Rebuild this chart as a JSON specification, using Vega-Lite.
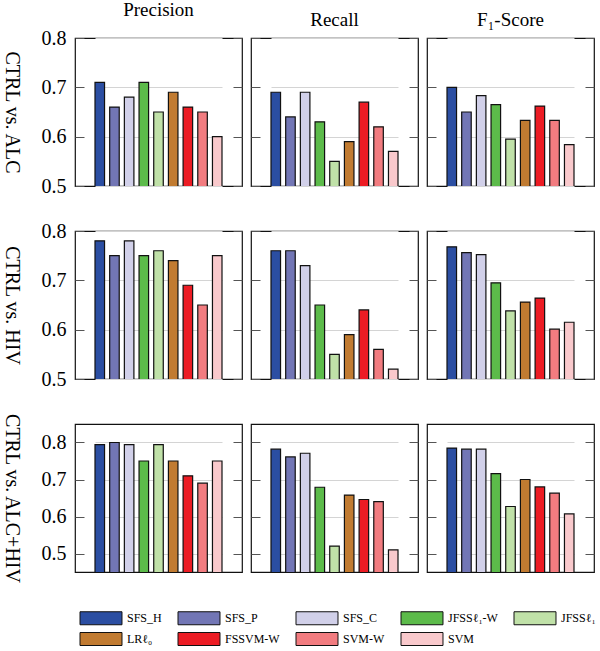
{
  "$schema": "https://vega.github.io/schema/vega-lite/v6.json",
  "padding": {"left": 0, "top": 0, "right": 2, "bottom": 0},
  "background": "white",
  "config": {
    "view": {"stroke": "#111", "strokeWidth": 1.2},
    "font": "Liberation Serif",
    "axis": {"domain": false, "tickSize": -9, "tickColor": "#555", "tickWidth": 1, "gridColor": "#d4d4d4", "gridWidth": 1, "labelFont": "Liberation Serif", "labelFontSize": 20, "labelColor": "black", "labelPadding": 18, "titleFont": "Liberation Serif", "titleFontSize": 20, "titleFontWeight": "normal", "titleColor": "black"},
    "title": {"font": "Liberation Serif", "fontSize": 19, "fontWeight": "normal", "color": "black", "offset": 8, "frame": "group"}
  },
  "data": {"values": [
    {"row": "ALC", "metric": "Precision", "method": "SFS_H", "value": 0.71},
    {"row": "ALC", "metric": "Precision", "method": "SFS_P", "value": 0.66},
    {"row": "ALC", "metric": "Precision", "method": "SFS_C", "value": 0.68},
    {"row": "ALC", "metric": "Precision", "method": "JFSSℓ₁-W", "value": 0.71},
    {"row": "ALC", "metric": "Precision", "method": "JFSSℓ₁", "value": 0.65},
    {"row": "ALC", "metric": "Precision", "method": "LRℓ₀", "value": 0.69},
    {"row": "ALC", "metric": "Precision", "method": "FSSVM-W", "value": 0.66},
    {"row": "ALC", "metric": "Precision", "method": "SVM-W", "value": 0.65},
    {"row": "ALC", "metric": "Precision", "method": "SVM", "value": 0.60},
    {"row": "ALC", "metric": "Recall", "method": "SFS_H", "value": 0.69},
    {"row": "ALC", "metric": "Recall", "method": "SFS_P", "value": 0.64},
    {"row": "ALC", "metric": "Recall", "method": "SFS_C", "value": 0.69},
    {"row": "ALC", "metric": "Recall", "method": "JFSSℓ₁-W", "value": 0.63},
    {"row": "ALC", "metric": "Recall", "method": "JFSSℓ₁", "value": 0.55},
    {"row": "ALC", "metric": "Recall", "method": "LRℓ₀", "value": 0.59},
    {"row": "ALC", "metric": "Recall", "method": "FSSVM-W", "value": 0.67},
    {"row": "ALC", "metric": "Recall", "method": "SVM-W", "value": 0.62},
    {"row": "ALC", "metric": "Recall", "method": "SVM", "value": 0.57},
    {"row": "ALC", "metric": "F1", "method": "SFS_H", "value": 0.70},
    {"row": "ALC", "metric": "F1", "method": "SFS_P", "value": 0.65},
    {"row": "ALC", "metric": "F1", "method": "SFS_C", "value": 0.683},
    {"row": "ALC", "metric": "F1", "method": "JFSSℓ₁-W", "value": 0.665},
    {"row": "ALC", "metric": "F1", "method": "JFSSℓ₁", "value": 0.595},
    {"row": "ALC", "metric": "F1", "method": "LRℓ₀", "value": 0.633},
    {"row": "ALC", "metric": "F1", "method": "FSSVM-W", "value": 0.662},
    {"row": "ALC", "metric": "F1", "method": "SVM-W", "value": 0.633},
    {"row": "ALC", "metric": "F1", "method": "SVM", "value": 0.584},
    {"row": "HIV", "metric": "Precision", "method": "SFS_H", "value": 0.78},
    {"row": "HIV", "metric": "Precision", "method": "SFS_P", "value": 0.75},
    {"row": "HIV", "metric": "Precision", "method": "SFS_C", "value": 0.78},
    {"row": "HIV", "metric": "Precision", "method": "JFSSℓ₁-W", "value": 0.75},
    {"row": "HIV", "metric": "Precision", "method": "JFSSℓ₁", "value": 0.76},
    {"row": "HIV", "metric": "Precision", "method": "LRℓ₀", "value": 0.74},
    {"row": "HIV", "metric": "Precision", "method": "FSSVM-W", "value": 0.69},
    {"row": "HIV", "metric": "Precision", "method": "SVM-W", "value": 0.65},
    {"row": "HIV", "metric": "Precision", "method": "SVM", "value": 0.75},
    {"row": "HIV", "metric": "Recall", "method": "SFS_H", "value": 0.76},
    {"row": "HIV", "metric": "Recall", "method": "SFS_P", "value": 0.76},
    {"row": "HIV", "metric": "Recall", "method": "SFS_C", "value": 0.73},
    {"row": "HIV", "metric": "Recall", "method": "JFSSℓ₁-W", "value": 0.65},
    {"row": "HIV", "metric": "Recall", "method": "JFSSℓ₁", "value": 0.55},
    {"row": "HIV", "metric": "Recall", "method": "LRℓ₀", "value": 0.59},
    {"row": "HIV", "metric": "Recall", "method": "FSSVM-W", "value": 0.64},
    {"row": "HIV", "metric": "Recall", "method": "SVM-W", "value": 0.56},
    {"row": "HIV", "metric": "Recall", "method": "SVM", "value": 0.52},
    {"row": "HIV", "metric": "F1", "method": "SFS_H", "value": 0.768},
    {"row": "HIV", "metric": "F1", "method": "SFS_P", "value": 0.756},
    {"row": "HIV", "metric": "F1", "method": "SFS_C", "value": 0.752},
    {"row": "HIV", "metric": "F1", "method": "JFSSℓ₁-W", "value": 0.695},
    {"row": "HIV", "metric": "F1", "method": "JFSSℓ₁", "value": 0.638},
    {"row": "HIV", "metric": "F1", "method": "LRℓ₀", "value": 0.656},
    {"row": "HIV", "metric": "F1", "method": "FSSVM-W", "value": 0.664},
    {"row": "HIV", "metric": "F1", "method": "SVM-W", "value": 0.601},
    {"row": "HIV", "metric": "F1", "method": "SVM", "value": 0.615},
    {"row": "BOTH", "metric": "Precision", "method": "SFS_H", "value": 0.794},
    {"row": "BOTH", "metric": "Precision", "method": "SFS_P", "value": 0.80},
    {"row": "BOTH", "metric": "Precision", "method": "SFS_C", "value": 0.794},
    {"row": "BOTH", "metric": "Precision", "method": "JFSSℓ₁-W", "value": 0.75},
    {"row": "BOTH", "metric": "Precision", "method": "JFSSℓ₁", "value": 0.794},
    {"row": "BOTH", "metric": "Precision", "method": "LRℓ₀", "value": 0.75},
    {"row": "BOTH", "metric": "Precision", "method": "FSSVM-W", "value": 0.71},
    {"row": "BOTH", "metric": "Precision", "method": "SVM-W", "value": 0.69},
    {"row": "BOTH", "metric": "Precision", "method": "SVM", "value": 0.75},
    {"row": "BOTH", "metric": "Recall", "method": "SFS_H", "value": 0.782},
    {"row": "BOTH", "metric": "Recall", "method": "SFS_P", "value": 0.761},
    {"row": "BOTH", "metric": "Recall", "method": "SFS_C", "value": 0.771},
    {"row": "BOTH", "metric": "Recall", "method": "JFSSℓ₁-W", "value": 0.679},
    {"row": "BOTH", "metric": "Recall", "method": "JFSSℓ₁", "value": 0.52},
    {"row": "BOTH", "metric": "Recall", "method": "LRℓ₀", "value": 0.658},
    {"row": "BOTH", "metric": "Recall", "method": "FSSVM-W", "value": 0.646},
    {"row": "BOTH", "metric": "Recall", "method": "SVM-W", "value": 0.64},
    {"row": "BOTH", "metric": "Recall", "method": "SVM", "value": 0.51},
    {"row": "BOTH", "metric": "F1", "method": "SFS_H", "value": 0.785},
    {"row": "BOTH", "metric": "F1", "method": "SFS_P", "value": 0.782},
    {"row": "BOTH", "metric": "F1", "method": "SFS_C", "value": 0.782},
    {"row": "BOTH", "metric": "F1", "method": "JFSSℓ₁-W", "value": 0.716},
    {"row": "BOTH", "metric": "F1", "method": "JFSSℓ₁", "value": 0.627},
    {"row": "BOTH", "metric": "F1", "method": "LRℓ₀", "value": 0.70},
    {"row": "BOTH", "metric": "F1", "method": "FSSVM-W", "value": 0.68},
    {"row": "BOTH", "metric": "F1", "method": "SVM-W", "value": 0.663},
    {"row": "BOTH", "metric": "F1", "method": "SVM", "value": 0.607}
  ]},
  "columns": 3,
  "bounds": "flush",
  "spacing": {"row": 45, "column": 9},
  "concat": [
      {"width": 167, "height": 148, "title": "Precision",
       "transform": [{"filter": "datum.row === 'ALC' && datum.metric === 'Precision'"}],
       "layer": [
         {"mark": {"type": "bar", "stroke": "#111", "strokeWidth": 1.2, "clip": true},
          "encoding": {
            "x": {"field": "method", "type": "nominal", "sort": null, "axis": null, "scale": {"range": [20, 147], "paddingInner": 0.35, "paddingOuter": 0}},
            "y": {"field": "value", "type": "quantitative", "scale": {"domain": [0.5, 0.8], "zero": false, "nice": false}, "axis": {"values": [0.5, 0.6, 0.7, 0.8], "format": ".1f", "title": "CTRL vs. ALC", "titleAngle": 90, "titlePadding": 40}},
            "color": {"field": "method", "type": "nominal",
              "scale": {"domain": ["SFS_H", "SFS_P", "SFS_C", "JFSSℓ₁-W", "JFSSℓ₁", "LRℓ₀", "FSSVM-W", "SVM-W", "SVM"], "range": ["#2b4ea2", "#7276b5", "#d1d0e9", "#5cbb4a", "#c0e1a8", "#c17b31", "#ec1c24", "#f27c80", "#f9c9cc"]},
              "legend": {"orient": "none", "legendX": 19, "legendY": 573, "columns": 5, "direction": "horizontal", "title": null, "symbolType": "M-3.23,-1H3.23V1H-3.23Z", "symbolSize": 169, "symbolStrokeColor": "#111", "symbolStrokeWidth": 1, "symbolOpacity": 1, "labelFont": "Liberation Serif", "labelFontSize": 12, "labelColor": "black", "labelOffset": 19, "columnPadding": 14, "rowPadding": 3}}
          }},
         {"mark": {"type": "point", "opacity": 0},
          "encoding": {"y": {"field": "value", "type": "quantitative", "scale": {"domain": [0.5, 0.8], "zero": false, "nice": false}, "axis": {"orient": "right", "values": [0.5, 0.6, 0.7, 0.8], "labels": false, "grid": false, "title": null}}}}
       ],
       "resolve": {"axis": {"y": "independent"}}},
      {"width": 167, "height": 148, "title": "Recall",
       "transform": [{"filter": "datum.row === 'ALC' && datum.metric === 'Recall'"}],
       "layer": [
         {"mark": {"type": "bar", "stroke": "#111", "strokeWidth": 1.2, "clip": true},
          "encoding": {
            "x": {"field": "method", "type": "nominal", "sort": null, "axis": null, "scale": {"range": [20, 147], "paddingInner": 0.35, "paddingOuter": 0}},
            "y": {"field": "value", "type": "quantitative", "scale": {"domain": [0.5, 0.8], "zero": false, "nice": false}, "axis": {"values": [0.5, 0.6, 0.7, 0.8], "labels": false, "title": null}},
            "color": {"field": "method", "type": "nominal"}
          }},
         {"mark": {"type": "point", "opacity": 0},
          "encoding": {"y": {"field": "value", "type": "quantitative", "scale": {"domain": [0.5, 0.8], "zero": false, "nice": false}, "axis": {"orient": "right", "values": [0.5, 0.6, 0.7, 0.8], "labels": false, "grid": false, "title": null}}}}
       ],
       "resolve": {"axis": {"y": "independent"}}},
      {"width": 167, "height": 148, "title": "F₁-Score",
       "transform": [{"filter": "datum.row === 'ALC' && datum.metric === 'F1'"}],
       "layer": [
         {"mark": {"type": "bar", "stroke": "#111", "strokeWidth": 1.2, "clip": true},
          "encoding": {
            "x": {"field": "method", "type": "nominal", "sort": null, "axis": null, "scale": {"range": [20, 147], "paddingInner": 0.35, "paddingOuter": 0}},
            "y": {"field": "value", "type": "quantitative", "scale": {"domain": [0.5, 0.8], "zero": false, "nice": false}, "axis": {"values": [0.5, 0.6, 0.7, 0.8], "labels": false, "title": null}},
            "color": {"field": "method", "type": "nominal"}
          }},
         {"mark": {"type": "point", "opacity": 0},
          "encoding": {"y": {"field": "value", "type": "quantitative", "scale": {"domain": [0.5, 0.8], "zero": false, "nice": false}, "axis": {"orient": "right", "values": [0.5, 0.6, 0.7, 0.8], "labels": false, "grid": false, "title": null}}}}
       ],
       "resolve": {"axis": {"y": "independent"}}},
      {"width": 167, "height": 148,
       "transform": [{"filter": "datum.row === 'HIV' && datum.metric === 'Precision'"}],
       "layer": [
         {"mark": {"type": "bar", "stroke": "#111", "strokeWidth": 1.2, "clip": true},
          "encoding": {
            "x": {"field": "method", "type": "nominal", "sort": null, "axis": null, "scale": {"range": [20, 147], "paddingInner": 0.35, "paddingOuter": 0}},
            "y": {"field": "value", "type": "quantitative", "scale": {"domain": [0.5, 0.8], "zero": false, "nice": false}, "axis": {"values": [0.5, 0.6, 0.7, 0.8], "format": ".1f", "title": "CTRL vs. HIV", "titleAngle": 90, "titlePadding": 40}},
            "color": {"field": "method", "type": "nominal"}
          }},
         {"mark": {"type": "point", "opacity": 0},
          "encoding": {"y": {"field": "value", "type": "quantitative", "scale": {"domain": [0.5, 0.8], "zero": false, "nice": false}, "axis": {"orient": "right", "values": [0.5, 0.6, 0.7, 0.8], "labels": false, "grid": false, "title": null}}}}
       ],
       "resolve": {"axis": {"y": "independent"}}},
      {"width": 167, "height": 148,
       "transform": [{"filter": "datum.row === 'HIV' && datum.metric === 'Recall'"}],
       "layer": [
         {"mark": {"type": "bar", "stroke": "#111", "strokeWidth": 1.2, "clip": true},
          "encoding": {
            "x": {"field": "method", "type": "nominal", "sort": null, "axis": null, "scale": {"range": [20, 147], "paddingInner": 0.35, "paddingOuter": 0}},
            "y": {"field": "value", "type": "quantitative", "scale": {"domain": [0.5, 0.8], "zero": false, "nice": false}, "axis": {"values": [0.5, 0.6, 0.7, 0.8], "labels": false, "title": null}},
            "color": {"field": "method", "type": "nominal"}
          }},
         {"mark": {"type": "point", "opacity": 0},
          "encoding": {"y": {"field": "value", "type": "quantitative", "scale": {"domain": [0.5, 0.8], "zero": false, "nice": false}, "axis": {"orient": "right", "values": [0.5, 0.6, 0.7, 0.8], "labels": false, "grid": false, "title": null}}}}
       ],
       "resolve": {"axis": {"y": "independent"}}},
      {"width": 167, "height": 148,
       "transform": [{"filter": "datum.row === 'HIV' && datum.metric === 'F1'"}],
       "layer": [
         {"mark": {"type": "bar", "stroke": "#111", "strokeWidth": 1.2, "clip": true},
          "encoding": {
            "x": {"field": "method", "type": "nominal", "sort": null, "axis": null, "scale": {"range": [20, 147], "paddingInner": 0.35, "paddingOuter": 0}},
            "y": {"field": "value", "type": "quantitative", "scale": {"domain": [0.5, 0.8], "zero": false, "nice": false}, "axis": {"values": [0.5, 0.6, 0.7, 0.8], "labels": false, "title": null}},
            "color": {"field": "method", "type": "nominal"}
          }},
         {"mark": {"type": "point", "opacity": 0},
          "encoding": {"y": {"field": "value", "type": "quantitative", "scale": {"domain": [0.5, 0.8], "zero": false, "nice": false}, "axis": {"orient": "right", "values": [0.5, 0.6, 0.7, 0.8], "labels": false, "grid": false, "title": null}}}}
       ],
       "resolve": {"axis": {"y": "independent"}}},
      {"width": 167, "height": 148,
       "transform": [{"filter": "datum.row === 'BOTH' && datum.metric === 'Precision'"}],
       "layer": [
         {"mark": {"type": "bar", "stroke": "#111", "strokeWidth": 1.2, "clip": true},
          "encoding": {
            "x": {"field": "method", "type": "nominal", "sort": null, "axis": null, "scale": {"range": [20, 147], "paddingInner": 0.35, "paddingOuter": 0}},
            "y": {"field": "value", "type": "quantitative", "scale": {"domain": [0.45, 0.85], "zero": false, "nice": false}, "axis": {"values": [0.5, 0.6, 0.7, 0.8], "format": ".1f", "title": "CTRL vs. ALC+HIV", "titleAngle": 90, "titlePadding": 40}},
            "color": {"field": "method", "type": "nominal"}
          }},
         {"mark": {"type": "point", "opacity": 0},
          "encoding": {"y": {"field": "value", "type": "quantitative", "scale": {"domain": [0.45, 0.85], "zero": false, "nice": false}, "axis": {"orient": "right", "values": [0.5, 0.6, 0.7, 0.8], "labels": false, "grid": false, "title": null}}}}
       ],
       "resolve": {"axis": {"y": "independent"}}},
      {"width": 167, "height": 148,
       "transform": [{"filter": "datum.row === 'BOTH' && datum.metric === 'Recall'"}],
       "layer": [
         {"mark": {"type": "bar", "stroke": "#111", "strokeWidth": 1.2, "clip": true},
          "encoding": {
            "x": {"field": "method", "type": "nominal", "sort": null, "axis": null, "scale": {"range": [20, 147], "paddingInner": 0.35, "paddingOuter": 0}},
            "y": {"field": "value", "type": "quantitative", "scale": {"domain": [0.45, 0.85], "zero": false, "nice": false}, "axis": {"values": [0.5, 0.6, 0.7, 0.8], "labels": false, "title": null}},
            "color": {"field": "method", "type": "nominal"}
          }},
         {"mark": {"type": "point", "opacity": 0},
          "encoding": {"y": {"field": "value", "type": "quantitative", "scale": {"domain": [0.45, 0.85], "zero": false, "nice": false}, "axis": {"orient": "right", "values": [0.5, 0.6, 0.7, 0.8], "labels": false, "grid": false, "title": null}}}}
       ],
       "resolve": {"axis": {"y": "independent"}}},
      {"width": 167, "height": 148,
       "transform": [{"filter": "datum.row === 'BOTH' && datum.metric === 'F1'"}],
       "layer": [
         {"mark": {"type": "bar", "stroke": "#111", "strokeWidth": 1.2, "clip": true},
          "encoding": {
            "x": {"field": "method", "type": "nominal", "sort": null, "axis": null, "scale": {"range": [20, 147], "paddingInner": 0.35, "paddingOuter": 0}},
            "y": {"field": "value", "type": "quantitative", "scale": {"domain": [0.45, 0.85], "zero": false, "nice": false}, "axis": {"values": [0.5, 0.6, 0.7, 0.8], "labels": false, "title": null}},
            "color": {"field": "method", "type": "nominal"}
          }},
         {"mark": {"type": "point", "opacity": 0},
          "encoding": {"y": {"field": "value", "type": "quantitative", "scale": {"domain": [0.45, 0.85], "zero": false, "nice": false}, "axis": {"orient": "right", "values": [0.5, 0.6, 0.7, 0.8], "labels": false, "grid": false, "title": null}}}}
       ],
       "resolve": {"axis": {"y": "independent"}}}
  ]
}
